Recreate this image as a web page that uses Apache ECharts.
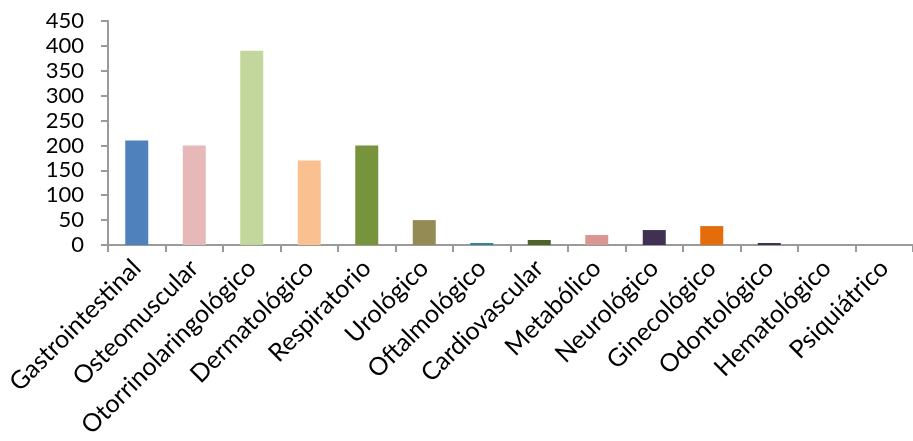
<!DOCTYPE html>
<html>
<head>
<meta charset="utf-8">
<script src="https://cdn.jsdelivr.net/npm/echarts@6/dist/echarts.min.js"></script>
<style>
html,body{margin:0;padding:0;background:#fff;}
#chart{width:913px;height:441px;}
</style>
</head>
<body>
<div id="chart"></div>
<script>
const categories = ["Gastrointestinal","Osteomuscular","Otorrinolaringológico","Dermatológico","Respiratorio","Urológico","Oftalmológico","Cardiovascular","Metabólico","Neurológico","Ginecológico","Odontológico","Hematológico","Psiquiátrico"];
const values = [210, 200, 390, 170, 200, 50, 4, 10, 20, 30, 38, 4, 0, 0];
const barColors = ["#4F81BD","#E6B9B8","#C3D69B","#FAC090","#77933C","#948A54","#31849B","#4F6228","#D99694","#403152","#E46C0A","#403152","#4F81BD","#4F81BD"];
const yTicks = {min: 0, max: 450, interval: 50};

const chart = echarts.init(document.getElementById('chart'), null, {renderer: 'canvas'});
const font = 'Lato';
chart.setOption({
  animation: false,
  grid: {left: 108, top: 21, width: 812, height: 224, containLabel: false},
  xAxis: {
    type: 'category',
    data: categories,
    boundaryGap: true,
    axisLine: {show: true, lineStyle: {color: '#9a9a9a', width: 2}},
    axisTick: {show: true, length: 7, alignWithLabel: false, lineStyle: {color: '#9a9a9a', width: 2}},
    axisLabel: {rotate: 45, interval: 0, margin: 19, color: '#000', fontFamily: font, fontSize: 25}
  },
  yAxis: {
    type: 'value',
    min: yTicks.min, max: yTicks.max, interval: yTicks.interval,
    splitLine: {show: false},
    axisLine: {show: true, lineStyle: {color: '#9a9a9a', width: 2}},
    axisTick: {show: true, length: 7, lineStyle: {color: '#9a9a9a', width: 2}},
    axisLabel: {margin: 24, color: '#000', fontFamily: font, fontSize: 22}
  },
  series: [{
    type: 'bar',
    data: values.map((v, i) => ({value: v, itemStyle: {color: barColors[i]}})),
    barWidth: '40%'
  }]
});
</script>
</body>
</html>
